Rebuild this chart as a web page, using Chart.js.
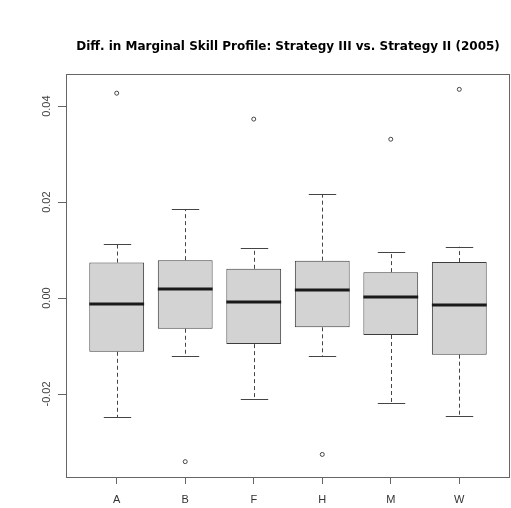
<!DOCTYPE html>
<html>
<head>
<meta charset="utf-8">
<script src="https://cdn.jsdelivr.net/npm/chart.js@4/dist/chart.umd.min.js"></script>
<style>
  html, body { margin: 0; padding: 0; background: #fff; overflow: hidden; }
  canvas { display: block; }
</style>
</head>
<body>
<canvas id="boxplot" width="511" height="508"></canvas>
<script>
// Datos del boxplot
const categorias = ['A', 'B', 'F', 'H', 'M', 'W'];
const whiskerBajo = [-0.0248, -0.0121, -0.0211, -0.0121, -0.0219, -0.0246];
const q1 = [-0.0112, -0.0064, -0.0096, -0.0061, -0.0077, -0.0118];
const mediana = [-0.0013, 0.0019, -0.0009, 0.0017, 0.0003, -0.0015];
const q3 = [0.0074, 0.0079, 0.0061, 0.0078, 0.0054, 0.0075];
const whiskerAlto = [0.0112, 0.0185, 0.0104, 0.0217, 0.0096, 0.0107];
const atipicos = [0.0427, -0.0341, 0.0373, -0.0326, 0.0331, 0.0435];
const ticksY = [-0.02, 0.00, 0.02, 0.04];

const titulo = 'Diff. in Marginal Skill Profile: Strategy III vs. Strategy II (2005)';
const fuente = '"Liberation Sans", Arial, sans-serif';
const fuenteTitulo = '"DejaVu Sans", sans-serif';

// plugin: bigotes, medianas, marco, título y etiquetas del eje Y giradas
const boxPlugin = {
  id: 'boxExtras',
  beforeDatasetsDraw(chart) {
    const { ctx, scales: { x, y } } = chart;
    const barras = chart.getDatasetMeta(0).data;
    ctx.save();
    ctx.strokeStyle = '#444';
    ctx.lineWidth = 1;
    categorias.forEach((c, i) => {
      const px = Math.round(x.getPixelForValue(i + 1)) + 0.5;
      const medio = barras[i].width / 4;
      // líneas punteadas
      ctx.setLineDash([4, 3]);
      ctx.beginPath();
      ctx.moveTo(px, y.getPixelForValue(q3[i]));
      ctx.lineTo(px, y.getPixelForValue(whiskerAlto[i]));
      ctx.moveTo(px, y.getPixelForValue(q1[i]));
      ctx.lineTo(px, y.getPixelForValue(whiskerBajo[i]));
      ctx.stroke();
      // topes
      ctx.setLineDash([]);
      ctx.beginPath();
      const ya = Math.round(y.getPixelForValue(whiskerAlto[i])) + 0.5;
      const yb = Math.round(y.getPixelForValue(whiskerBajo[i])) + 0.5;
      ctx.moveTo(px - medio, ya); ctx.lineTo(px + medio, ya);
      ctx.moveTo(px - medio, yb); ctx.lineTo(px + medio, yb);
      ctx.stroke();
    });
    ctx.restore();
  },
  afterDatasetsDraw(chart) {
    const { ctx, chartArea: a, scales: { x, y } } = chart;
    const barras = chart.getDatasetMeta(0).data;
    ctx.save();
    // medianas
    ctx.strokeStyle = '#1a1a1a';
    ctx.lineWidth = 3;
    categorias.forEach((c, i) => {
      const px = x.getPixelForValue(i + 1);
      const w = barras[i].width / 2;
      const py = Math.round(y.getPixelForValue(mediana[i]));
      ctx.beginPath();
      ctx.moveTo(px - w, py);
      ctx.lineTo(px + w, py);
      ctx.stroke();
    });
    // marco
    ctx.strokeStyle = '#666';
    ctx.lineWidth = 1;
    ctx.strokeRect(Math.round(a.left) + 0.5, Math.round(a.top) + 0.5,
      Math.round(a.right - a.left) - 1, Math.round(a.bottom - a.top));
    // etiquetas Y giradas
    ctx.fillStyle = '#444';
    ctx.font = '11px ' + fuente;
    ctx.textAlign = 'center';
    ctx.textBaseline = 'middle';
    y.ticks.forEach(t => {
      ctx.save();
      ctx.translate(47, y.getPixelForValue(t.value));
      ctx.rotate(-Math.PI / 2);
      ctx.fillText(t.value.toFixed(2), 0, 0);
      ctx.restore();
    });
    // título
    ctx.fillStyle = '#000';
    ctx.font = 'bold 12px ' + fuenteTitulo;
    ctx.fillText(titulo, (a.left + a.right) / 2, 47);
    ctx.restore();
  }
};

const ctx = document.getElementById('boxplot').getContext('2d');

new Chart(ctx, {
  type: 'bar',
  data: {
    datasets: [{
      type: 'bar',
      data: categorias.map((c, i) => ({ x: i + 1, y: [q1[i], q3[i]] })),
      backgroundColor: '#d3d3d3',
      borderColor: '#3c3c3c',
      borderWidth: 1,
      borderSkipped: false,
      barPercentage: 0.8,
      categoryPercentage: 1
    }, {
      type: 'scatter',
      data: categorias.map((c, i) => ({ x: i + 1, y: atipicos[i] })),
      pointStyle: 'circle',
      pointRadius: 2,
      backgroundColor: 'rgba(0,0,0,0)',
      borderColor: '#444',
      borderWidth: 1
    }]
  },
  options: {
    responsive: false,
    animation: false,
    layout: { autoPadding: false, padding: { top: 74, right: 1, left: 0, bottom: 0 } },
    plugins: {
      legend: { display: false },
      tooltip: { enabled: false },
      title: { display: false }
    },
    scales: {
      x: {
        type: 'linear',
        min: 0.26,
        max: 6.74,
        offset: false,
        afterBuildTicks: s => { s.ticks = categorias.map((c, i) => ({ value: i + 1 })); },
        afterFit: s => {
          s.height = 31;
          s.paddingLeft = 0;
          s.paddingRight = 0;
        },
        ticks: {
          callback: v => categorias[v - 1],
          color: '#333',
          font: { size: 11, family: fuente },
          padding: 9,
          maxRotation: 0,
          autoSkip: false
        },
        grid: { offset: false, drawOnChartArea: false, tickLength: 7, tickColor: '#666' },
        border: { display: false }
      },
      y: {
        min: -0.0373,
        max: 0.0467,
        afterBuildTicks: s => { s.ticks = ticksY.map(v => ({ value: v })); },
        afterFit: s => {
          s.width = 66;
          s.paddingTop = 0;
          s.paddingBottom = 0;
        },
        ticks: { display: false },
        grid: { drawOnChartArea: false, tickLength: 8, tickColor: '#666' },
        border: { display: false }
      }
    }
  },
  plugins: [boxPlugin]
});
</script>
</body>
</html>
